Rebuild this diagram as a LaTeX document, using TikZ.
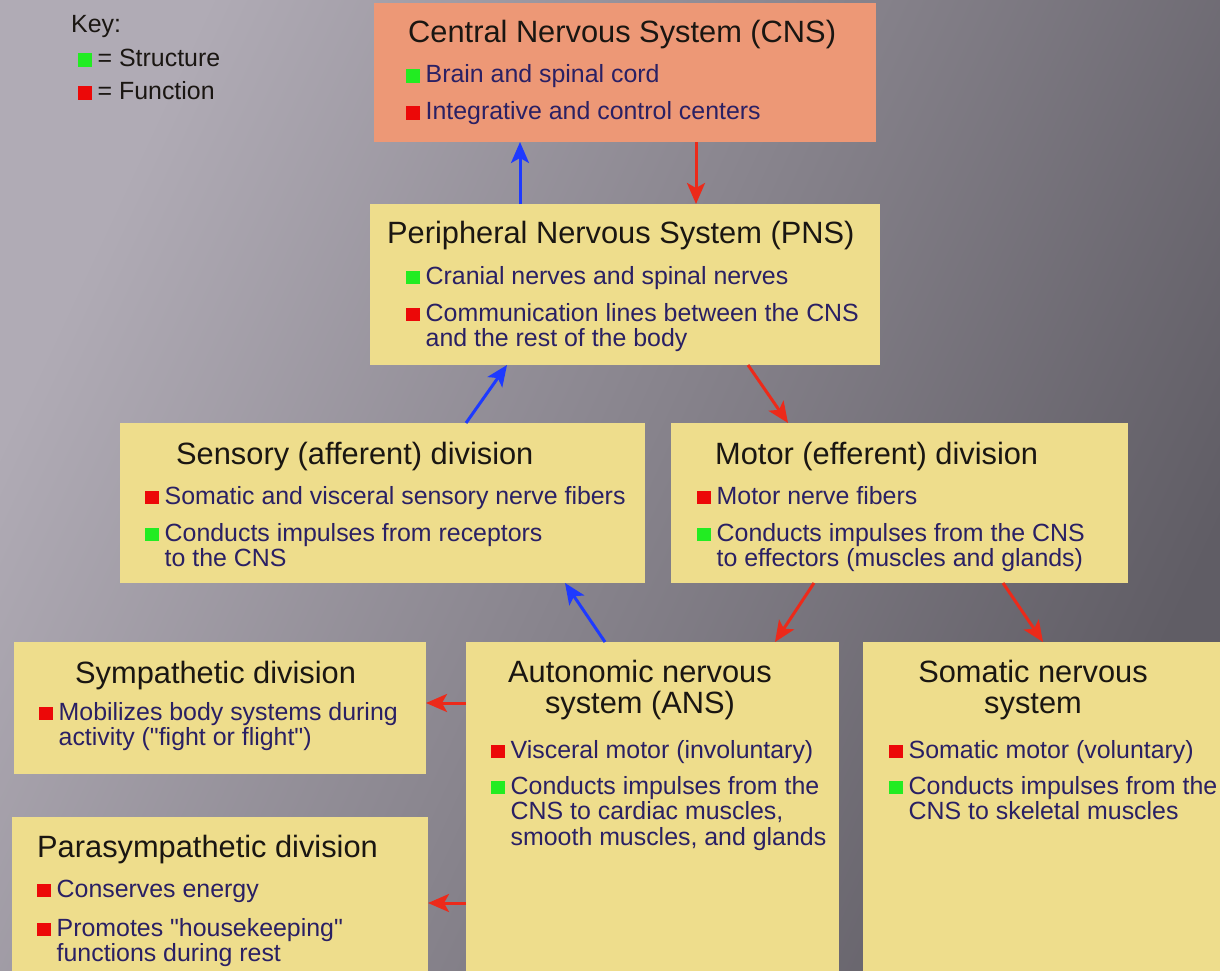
\documentclass[tikz,border=0pt]{standalone}
\usepackage{fontspec}
\setmainfont{Liberation Sans}
\usetikzlibrary{arrows.meta}
\definecolor{cnsfill}{RGB}{237,152,118}
\definecolor{boxfill}{RGB}{238,221,140}
\definecolor{ink}{RGB}{42,32,100}
\definecolor{headcol}{RGB}{26,22,18}
\definecolor{sgreen}{RGB}{34,236,34}
\definecolor{sred}{RGB}{236,8,8}
\definecolor{ablue}{RGB}{30,58,255}
\definecolor{ared}{RGB}{236,42,26}
\definecolor{bgL}{RGB}{176,171,181}
\definecolor{bgR}{RGB}{96,93,101}
\newcommand{\sqitem}[2]{{\color{#1}\rule{13.5pt}{13.5pt}}\hspace{6pt}\begin{tabular}[t]{@{}l@{}}#2\end{tabular}}
\newcommand{\stack}[1]{\begin{tabular}[t]{@{}c@{}}#1\end{tabular}}

\begin{document}
\begin{tikzpicture}[x=1pt,y=-1pt,
  box/.style={fill=boxfill, inner sep=0pt, outer sep=0pt, anchor=north west},
  ttl/.style={anchor=base west, inner sep=0pt, text=headcol, font=\fontsize{30.8}{31}\selectfont},
  bul/.style={anchor=base west, inner sep=0pt, text=ink, font=\fontsize{24.9}{25}\selectfont},
  up/.style={ablue, line width=3pt, -{Stealth[length=21pt,width=18pt,inset=5pt]}},
  down/.style={up, ared}]
  \clip (0,0) rectangle (1220,971);
  \shade[shading=axis, left color=bgL, right color=bgR, shading angle=65] (0,0) rectangle (1220,971);

  \node[box, fill=cnsfill, minimum width=502pt, minimum height=139pt] (cns) at (374,3) {};
  \foreach \nm/\xa/\ya/\w/\h in {pns/370/204/510/161, sens/120/423/525/160, mot/671/423/457/160,
    symp/14/642/412/132, ans/466/642/373/340, som/863/642/370/340, para/12/817/416/170}
    \node[box, minimum width=\w pt, minimum height=\h pt] (\nm) at (\xa,\ya) {};

  \node[bul, text=headcol] (key) at (71,33) {Key:};
  \node[bul, text=headcol] (key1) at (78,67) {\sqitem{sgreen}{= Structure}};
  \node[bul, text=headcol] (key2) at (78,100) {\sqitem{sred}{= Function}};

  \node[ttl] (cnsT) at (408,43) {Central Nervous System (CNS)};
  \node[bul] (cns1) at (406,83) {\sqitem{sgreen}{Brain and spinal cord}};
  \node[bul] (cns2) at (406,120) {\sqitem{sred}{Integrative and control centers}};

  \node[ttl] (pnsT) at (387,243) {Peripheral Nervous System (PNS)};
  \node[bul] (pns1) at (406,284) {\sqitem{sgreen}{Cranial nerves and spinal nerves}};
  \node[bul] (pns2) at (406,321) {\sqitem{sred}{Communication lines between the CNS\\and the rest of the body}};

  \node[ttl] (sensT) at (176,464) {Sensory (afferent) division};
  \node[bul] (sens1) at (145,504) {\sqitem{sred}{Somatic and visceral sensory nerve fibers}};
  \node[bul] (sens2) at (145,541) {\sqitem{sgreen}{Conducts impulses from receptors\\to the CNS}};

  \node[ttl] (motT) at (715,464) {Motor (efferent) division};
  \node[bul] (mot1) at (697,504) {\sqitem{sred}{Motor nerve fibers}};
  \node[bul] (mot2) at (697,541) {\sqitem{sgreen}{Conducts impulses from the CNS\\to effectors (muscles and glands)}};

  \node[ttl] (sympT) at (75,683) {Sympathetic division};
  \node[bul] (symp1) at (39,720) {\sqitem{sred}{Mobilizes body systems during\\activity (\textquotedbl fight or flight\textquotedbl)}};

  \node[ttl, anchor=base] (ansT) at (640,682) {\stack{Autonomic nervous\\system (ANS)}};
  \node[bul] (ans1) at (491,758) {\sqitem{sred}{Visceral motor (involuntary)}};
  \node[bul] (ans2) at (491,794) {\sqitem{sgreen}{Conducts impulses from the\\CNS to cardiac muscles,\\smooth muscles, and glands}};

  \node[ttl, anchor=base] (somT) at (1033,682) {\stack{Somatic nervous\\system}};
  \node[bul] (som1) at (889,758) {\sqitem{sred}{Somatic motor (voluntary)}};
  \node[bul] (som2) at (889,794) {\sqitem{sgreen}{Conducts impulses from the\\CNS to skeletal muscles}};

  \node[ttl] (paraT) at (37,857) {Parasympathetic division};
  \node[bul] (para1) at (37,897) {\sqitem{sred}{Conserves energy}};
  \node[bul] (para2) at (37,936) {\sqitem{sred}{Promotes \textquotedbl housekeeping\textquotedbl\\functions during rest}};

  \foreach \s/\t in {{pns.north -| 520,0}/{cns.south -| 520,0}, {sens.north -| 466,0}/{pns.south -| 507,0},
    {ans.north -| 605,0}/{sens.south -| 565,0}}
    \draw[up] (\s) -- (\t);
  \foreach \s/\t in {{cns.south -| 696,0}/{pns.north -| 696,0}, {pns.south -| 748,0}/{mot.north -| 788,0},
    {mot.south -| 814,0}/{ans.north -| 775,0}, {mot.south -| 1003,0}/{som.north -| 1043,0},
    {ans.west |- 0,703}/{symp.east |- 0,703}, {ans.west |- 0,903}/{para.east |- 0,903}}
    \draw[down] (\s) -- (\t);
\end{tikzpicture}
\end{document}
